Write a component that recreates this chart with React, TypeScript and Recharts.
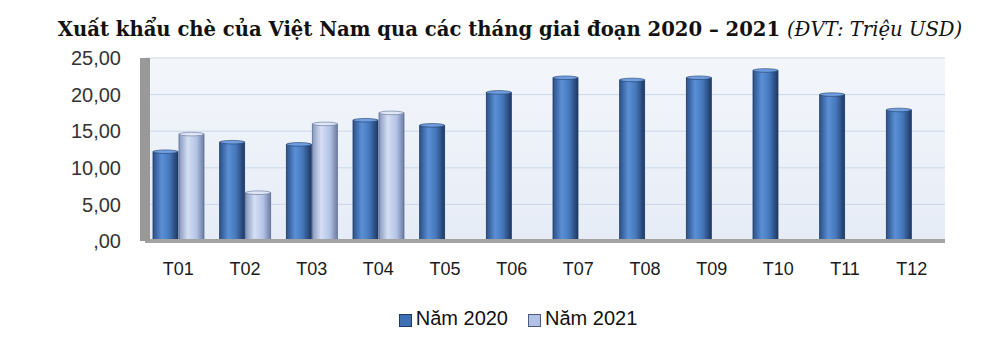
import { BarChart, Bar, XAxis, YAxis, CartesianGrid } from 'recharts'

const months = ['T01', 'T02', 'T03', 'T04', 'T05', 'T06', 'T07', 'T08', 'T09', 'T10', 'T11', 'T12']
const exports2020 = [12.2, 13.5, 13.2, 16.5, 15.8, 20.3, 22.3, 22.0, 22.3, 23.3, 20.0, 17.9]
const exports2021: (number | null)[] = [14.6, 6.6, 16.0, 17.5, null, null, null, null, null, null, null, null]
const yTicks = [0, 5, 10, 15, 20, 25]

const data = months.map((m, i) => ({ month: m, y2020: exports2020[i], y2021: exports2021[i] }))

const sans = "'Liberation Sans', Arial, sans-serif"

function fmt(v: number) {
  return v === 0 ? ',00' : v.toFixed(2).replace('.', ',')
}

function cylinder(cap: string, edge: string) {
  return (props: any) => {
    const { x, y, width, height, fill } = props
    if (!height || height <= 0) return <g />
    return (
      <g>
        <rect x={x} y={y} width={width} height={height} fill={fill} stroke={edge} strokeWidth={0.8} />
        <ellipse cx={x + width / 2} cy={y} rx={width / 2} ry={1.8} fill={cap} stroke={edge} strokeWidth={0.6} />
      </g>
    )
  }
}

export default function App() {
  return (
    <div style={{ position: 'absolute', top: 0, left: 0, width: 1000, height: 341, background: '#fff' }}>
      <div
        style={{
          position: 'absolute', top: 20, left: 0, width: 1020, textAlign: 'center',
          fontFamily: "'DejaVu Serif', serif", fontSize: 19.6, lineHeight: '20px',
          fontWeight: 'bold', color: '#111', whiteSpace: 'nowrap',
        }}
      >
        Xuất khẩu chè của Việt Nam qua các tháng giai đoạn 2020 – 2021{' '}
        <span style={{ fontStyle: 'italic', fontWeight: 'normal' }}>(ĐVT: Triệu USD)</span>
      </div>

      <BarChart
        width={1000}
        height={341}
        data={data}
        margin={{ top: 58, right: 55, bottom: 0, left: 0 }}
        barSize={25}
        barGap={1}
      >
        <defs>
          <linearGradient id="bg" x1="0" y1="0" x2="0" y2="1">
            <stop offset="0" stopColor="#f3f6fb" />
            <stop offset="1" stopColor="#e6ecf6" />
          </linearGradient>
          <linearGradient id="g2020" x1="0" y1="0" x2="1" y2="0">
            <stop offset="0" stopColor="#2c5088" />
            <stop offset="0.35" stopColor="#5b90d6" />
            <stop offset="0.65" stopColor="#4677bb" />
            <stop offset="1" stopColor="#1d3862" />
          </linearGradient>
          <linearGradient id="g2021" x1="0" y1="0" x2="1" y2="0">
            <stop offset="0" stopColor="#8797bd" />
            <stop offset="0.35" stopColor="#d5dff4" />
            <stop offset="0.7" stopColor="#b4c3e5" />
            <stop offset="1" stopColor="#6c7ca3" />
          </linearGradient>
        </defs>
        <CartesianGrid vertical={false} stroke="#cbd7e8" fill="url(#bg)" />
        <XAxis
          dataKey="month"
          height={100}
          tickLine={false}
          tickSize={0}
          tickMargin={21}
          axisLine={{ stroke: '#a3a3a3', strokeWidth: 4 }}
          tick={{ fontFamily: sans, fontSize: 18, fill: '#1a1a1a' }}
        />
        <YAxis
          width={145}
          domain={[0, 25]}
          ticks={yTicks}
          tickFormatter={fmt}
          tickLine={false}
          tickSize={0}
          tickMargin={24}
          axisLine={{ stroke: '#999', strokeWidth: 10 }}
          tick={{ fontFamily: sans, fontSize: 20, fill: '#333' }}
        />
        <Bar dataKey="y2020" fill="url(#g2020)" shape={cylinder('#6f9ee0', '#1f3a66')} isAnimationActive={false} />
        <Bar dataKey="y2021" fill="url(#g2021)" shape={cylinder('#e0e7f7', '#5e6d93')} isAnimationActive={false} />
      </BarChart>

      <div
        style={{
          position: 'absolute', top: 307, left: 0, width: 1036, display: 'flex', justifyContent: 'center',
          alignItems: 'center', gap: 20, fontFamily: sans, fontSize: 20, color: '#111',
        }}
      >
        {[
          { label: 'Năm 2020', color: '#3f6fb3', border: '#1f3a66' },
          { label: 'Năm 2021', color: '#b2c1e4', border: '#4a5a80' },
        ].map(item => (
          <div key={item.label} style={{ display: 'flex', alignItems: 'center', gap: 4 }}>
            <span style={{ display: 'inline-block', width: 11, height: 11, marginTop: 3, background: item.color, border: `1.5px solid ${item.border}` }} />
            <span>{item.label}</span>
          </div>
        ))}
      </div>
    </div>
  )
}
